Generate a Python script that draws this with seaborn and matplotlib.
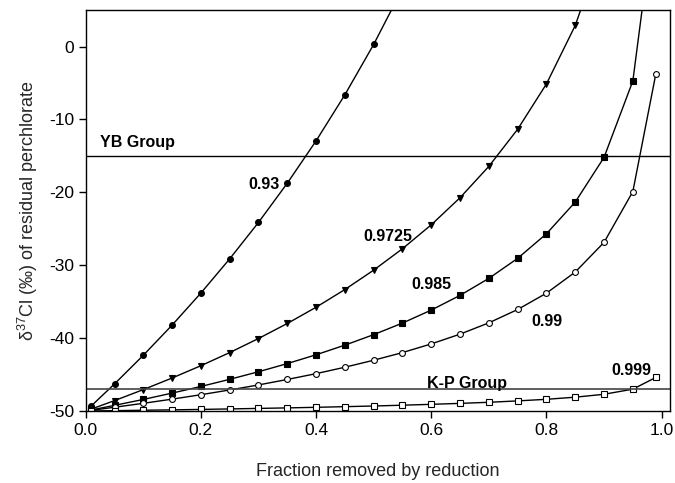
import numpy as np
import pandas as pd
import matplotlib
matplotlib.use("Agg")
import matplotlib.pyplot as plt
import seaborn as sns

# Fraction removed by reduction
frac = [0.01, 0.05, 0.10, 0.15, 0.20, 0.25, 0.30, 0.35, 0.40, 0.45, 0.50,
        0.55, 0.60, 0.65, 0.70, 0.75, 0.80, 0.85, 0.90, 0.95, 0.99]

# delta37Cl of residual perchlorate for each fractionation factor
d_093 = [-49.27, -46.28, -42.35, -38.21, -33.81, -29.12, -24.12, -18.74,
         -12.93, -6.61, 0.30, 7.95]
d_09725 = [-49.72, -48.57, -47.06, -45.47, -43.78, -41.98, -40.05, -37.99,
           -35.76, -33.33, -30.67, -27.73, -24.45, -20.73, -16.43, -11.34,
           -5.12, 2.90, 14.21]
d_0985 = [-49.85, -49.22, -48.41, -47.54, -46.63, -45.65, -44.61, -43.49,
          -42.28, -40.96, -39.52, -37.93, -36.15, -34.13, -31.80, -29.05,
          -25.68, -21.33, -15.20, -4.72, 19.60]
d_099 = [-49.90, -49.48, -48.94, -48.37, -47.76, -47.11, -46.42, -45.67,
         -44.87, -43.99, -43.03, -41.98, -40.79, -39.45, -37.90, -36.07,
         -33.83, -30.93, -26.86, -19.89, -3.72]
d_0999 = [-49.99, -49.95, -49.89, -49.84, -49.78, -49.71, -49.64, -49.57,
          -49.49, -49.40, -49.31, -49.20, -49.08, -48.95, -48.80, -48.61,
          -48.39, -48.10, -47.70, -47.00, -45.39]

alpha_labels = ["0.93", "0.9725", "0.985", "0.99", "0.999"]
yb_group = -15.0
kp_group = -47.0

x_ticks = [0.0, 0.2, 0.4, 0.6, 0.8, 1.0]
y_ticks = [0, -10, -20, -30, -40, -50]

sns.set_style("ticks")
plt.rcParams["font.family"] = ["Liberation Sans", "DejaVu Sans"]
plt.rcParams["axes.unicode_minus"] = False
plt.rcParams["mathtext.fontset"] = "custom"
plt.rcParams["mathtext.rm"] = "Liberation Sans"

fig = plt.figure(figsize=(6.75, 4.83), dpi=100)
ax = fig.add_axes([0.127, 0.149, 0.866, 0.830])

series = [
    (d_093, dict(marker="o", markerfacecolor="black")),
    (d_09725, dict(marker="v", markerfacecolor="black")),
    (d_0985, dict(marker="s", markerfacecolor="black")),
    (d_099, dict(marker="o", markerfacecolor="white")),
    (d_0999, dict(marker="s", markerfacecolor="white")),
]
for vals, st in series:
    df = pd.DataFrame({"x": frac[:len(vals)], "y": vals})
    sns.lineplot(data=df, x="x", y="y", ax=ax, color="black", linewidth=1.0,
                 markersize=4.2 if st["marker"] != "v" else 4.8,
                 markeredgecolor="black", markeredgewidth=0.8, **st)

ax.axhline(yb_group, color="black", linewidth=1.0)
ax.axhline(kp_group, color="#444444", linewidth=1.2)

ax.set_xlim(0, 1.015)
ax.set_ylim(-50, 5)
ax.set_xticks(x_ticks)
ax.set_xticklabels([f"{t:.1f}" for t in x_ticks])
ax.set_yticks(y_ticks)
ax.set_yticklabels([str(t) for t in y_ticks])
ax.tick_params(direction="out", length=5, width=1, labelsize=12.5, colors="black")
for s in ax.spines.values():
    s.set_visible(True)
    s.set_color("black")
    s.set_linewidth(1.0)

ax.set_xlabel("Fraction removed by reduction", fontsize=13, labelpad=18)
ax.set_ylabel(r"$\mathregular{\delta^{37}}$Cl (‰) of residual perchlorate",
              fontsize=13, labelpad=6)

bold = dict(fontsize=11.5, fontweight="bold", color="black")
ax.text(0.025, -13.2, "YB Group", ha="left", va="center", **bold)
ax.text(0.31, -18.9, alpha_labels[0], ha="center", va="center", **bold)
ax.text(0.525, -26.0, alpha_labels[1], ha="center", va="center", **bold)
ax.text(0.60, -32.6, alpha_labels[2], ha="center", va="center", **bold)
ax.text(0.80, -37.7, alpha_labels[3], ha="center", va="center", **bold)
ax.text(0.948, -44.5, alpha_labels[4], ha="center", va="center", **bold)
ax.text(0.662, -46.2, "K-P Group", ha="center", va="center", **bold)

fig.savefig("out.png", dpi=100)
